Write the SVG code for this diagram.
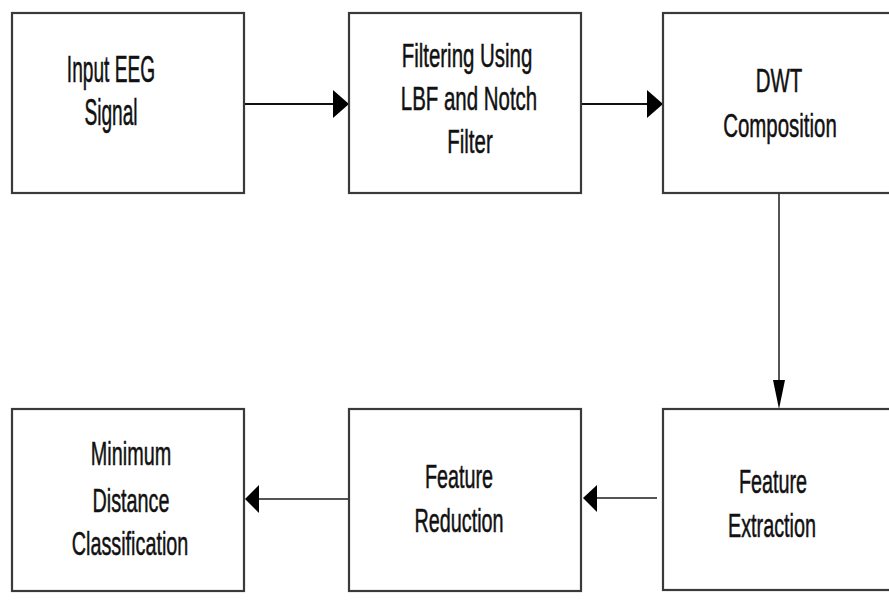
<svg xmlns="http://www.w3.org/2000/svg" width="889" height="606" viewBox="0 0 889 606">
<style>
.box{fill:#fff;stroke:#3a3a3a;stroke-width:2.2}
.lbl{font-family:"Liberation Sans",Arial,sans-serif;font-size:33px;fill:#111;stroke:#111;stroke-width:0.5;text-anchor:middle}
.c1{stroke:#111;stroke-width:2.2;fill:none}
.c2{stroke:#555;stroke-width:2;fill:none}
.ah{fill:#000}
</style>
<rect width="889" height="606" fill="#fff"/>
<g id="connectors">
<line class="c1" x1="244" y1="104" x2="336" y2="104"/>
<polygon class="ah" points="333,90 349,104 333,118"/>
<line class="c1" x1="581" y1="104" x2="650" y2="104"/>
<polygon class="ah" points="647,90 663,104 647,118"/>
<line class="c2" x1="779" y1="193" x2="779" y2="385"/>
<polygon class="ah" points="773,380 785,380 779,409"/>
<line class="c2" x1="657" y1="498" x2="595" y2="498"/>
<polygon class="ah" points="597,485 597,512 583,498"/>
<line class="c2" x1="349" y1="499" x2="258" y2="499"/>
<polygon class="ah" points="259,485 259,513 245,499"/>
</g>
<g id="n1">
<rect class="box" x="12" y="13" width="232" height="180"/>
<text class="lbl" transform="translate(111,82) scale(0.58,1.1)">Input EEG</text>
<text class="lbl" transform="translate(111,125) scale(0.58,1.1)">Signal</text>
</g>
<g id="n2">
<rect class="box" x="349" y="13" width="232" height="180"/>
<text class="lbl" transform="translate(467,67) scale(0.62,1.03)">Filtering Using</text>
<text class="lbl" transform="translate(469,110) scale(0.62,1.03)">LBF and Notch</text>
<text class="lbl" transform="translate(470,153) scale(0.62,1.03)">Filter</text>
</g>
<g id="n3">
<rect class="box" x="663" y="13" width="240" height="180"/>
<text class="lbl" transform="translate(779,92) scale(0.62,1.03)">DWT</text>
<text class="lbl" transform="translate(780,137) scale(0.62,1.03)">Composition</text>
</g>
<g id="n4">
<rect class="box" x="663" y="409" width="240" height="181"/>
<text class="lbl" transform="translate(773,493) scale(0.6,1.03)">Feature</text>
<text class="lbl" transform="translate(772,537) scale(0.6,1.03)">Extraction</text>
</g>
<g id="n5">
<rect class="box" x="349" y="409" width="232" height="182"/>
<text class="lbl" transform="translate(459,488) scale(0.6,1.03)">Feature</text>
<text class="lbl" transform="translate(459,532) scale(0.6,1.03)">Reduction</text>
</g>
<g id="n6">
<rect class="box" x="12" y="409" width="232" height="182"/>
<text class="lbl" transform="translate(131,465) scale(0.6,1.03)">Minimum</text>
<text class="lbl" transform="translate(131,512) scale(0.6,1.03)">Distance</text>
<text class="lbl" transform="translate(130,555) scale(0.6,1.03)">Classification</text>
</g>
</svg>
